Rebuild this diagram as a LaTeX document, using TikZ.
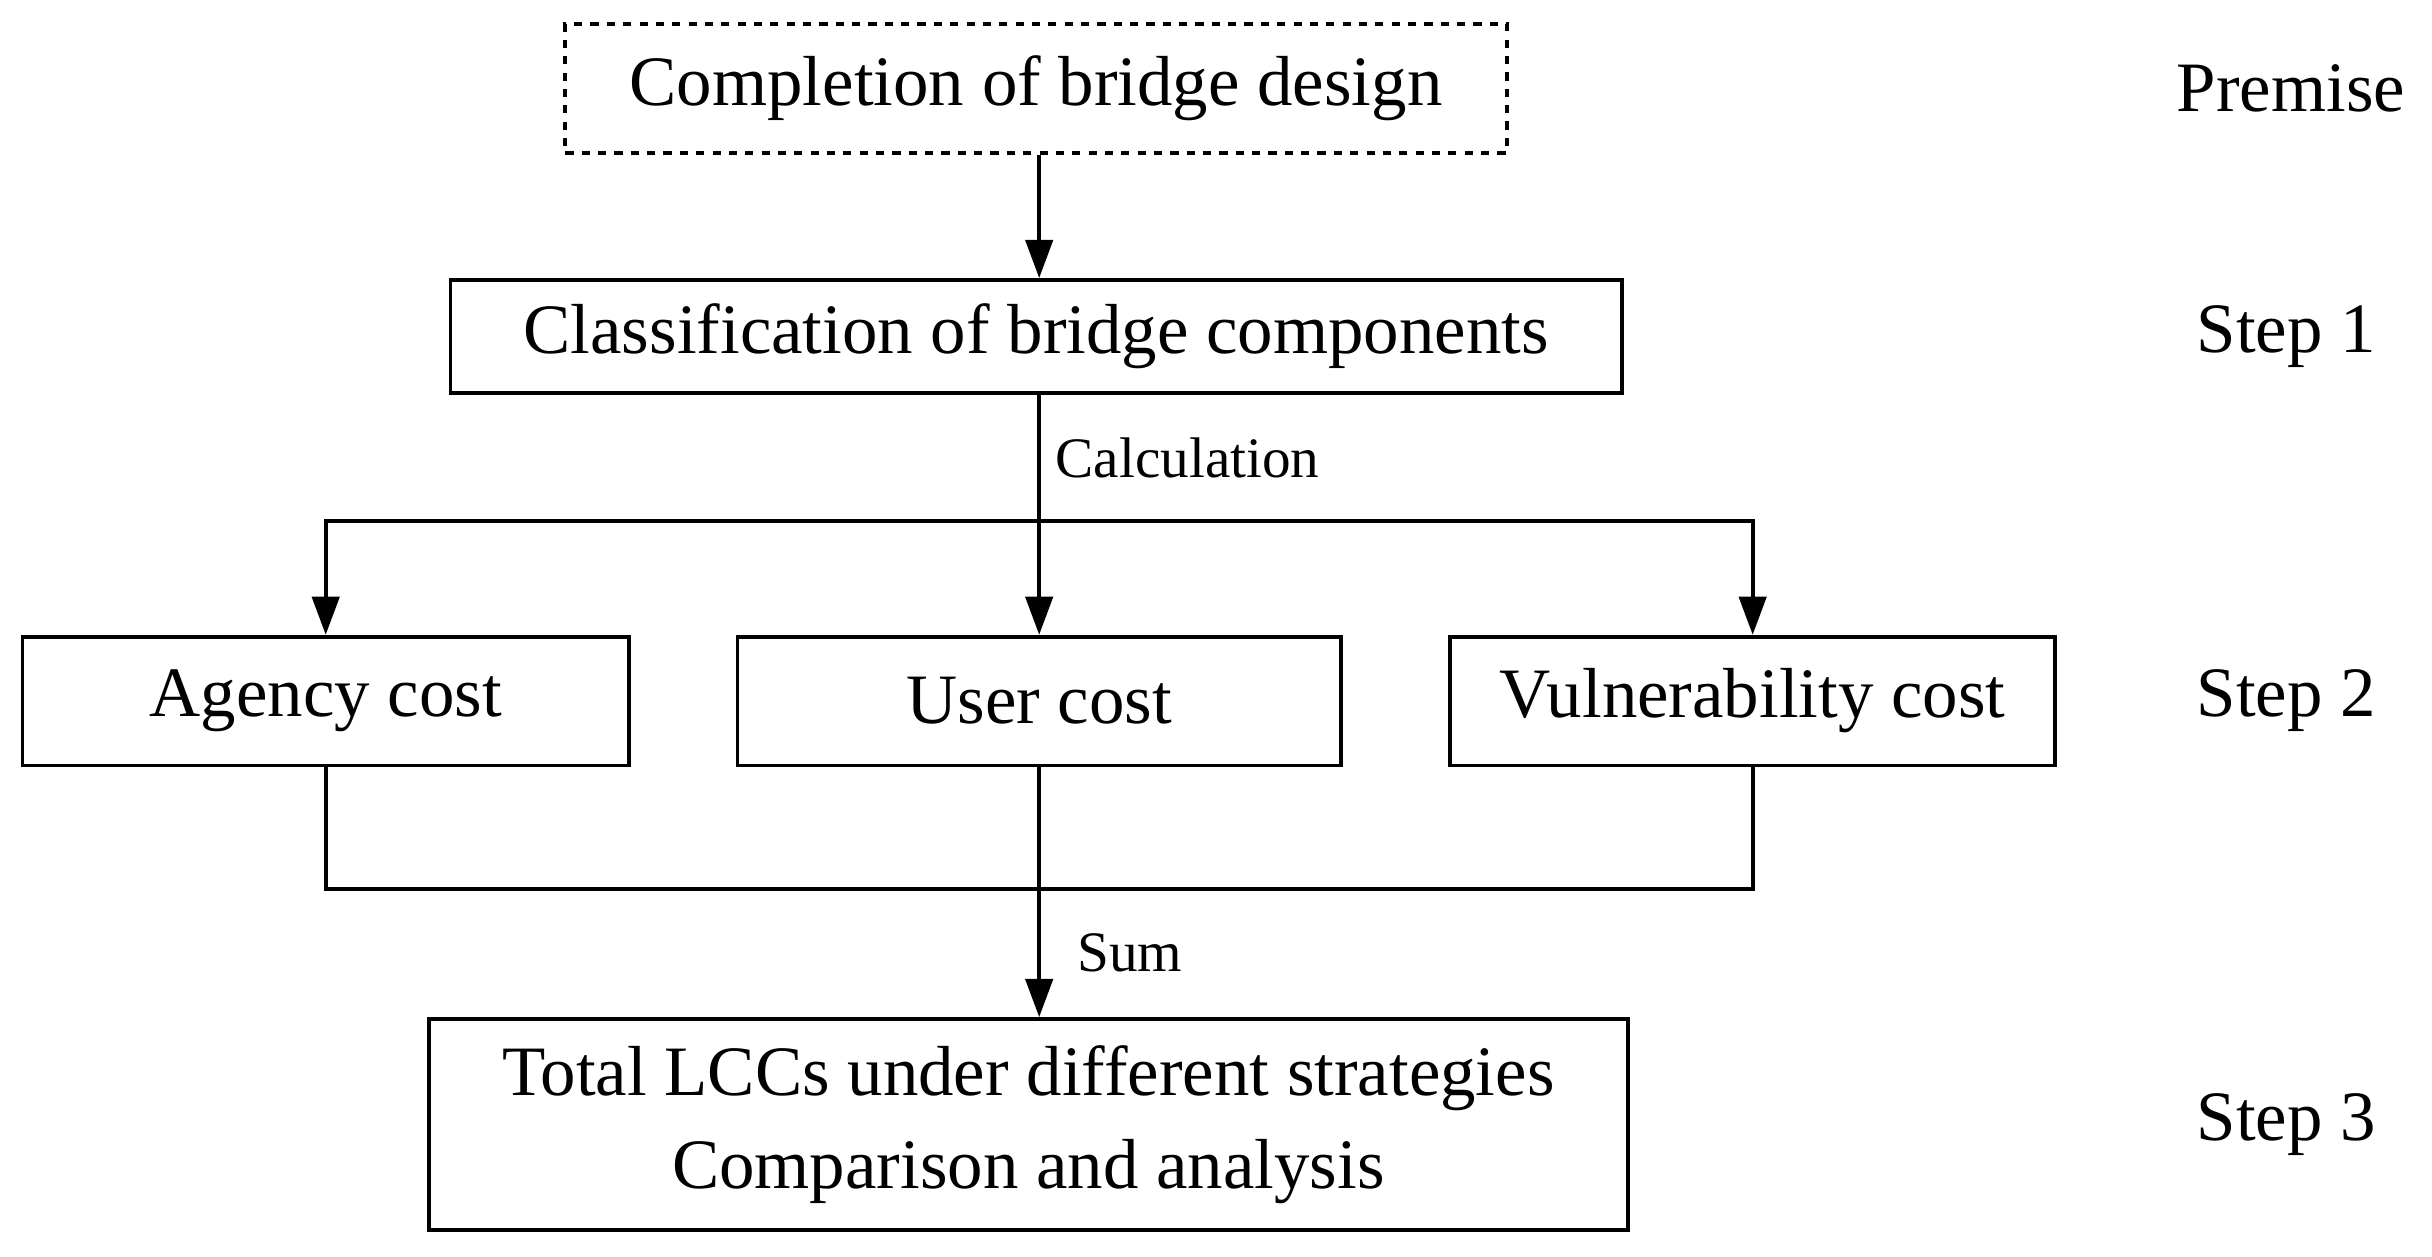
\documentclass[tikz,border=0pt]{standalone}
\usepackage{fontspec}
\setmainfont{Liberation Serif}
\usetikzlibrary{arrows.meta}
\begin{document}
\begin{tikzpicture}[x=0.02cm,y=-0.02cm,
  box/.style={draw,line width=1.4pt,inner sep=0pt,font=\fontsize{26}{34}\selectfont,align=center},
  lbl/.style={font=\fontsize{26}{30}\selectfont},
  sm/.style={font=\fontsize{21}{26}\selectfont,anchor=west},
  ln/.style={line width=1.4pt},
  ar/.style={line width=1.4pt,-{Triangle[length=14pt,width=10pt]}}]
\useasboundingbox (0,0) rectangle (1568,810);
\node[box,dashed,minimum width=607*0.02cm,minimum height=83*0.02cm] (p) at (668,57) {Completion of bridge design};
\node[box,minimum width=755*0.02cm,minimum height=73*0.02cm] (s1) at (668,217) {Classification of bridge components};
\node[box,minimum width=391*0.02cm,minimum height=83*0.02cm] (a) at (210,452) {Agency cost};
\node[box,minimum width=389*0.02cm,minimum height=83*0.02cm] (u) at (670,452) {User cost};
\node[box,minimum width=390*0.02cm,minimum height=83*0.02cm] (v) at (1130,452) {Vulnerability cost};
\node[box,minimum width=773*0.02cm,minimum height=136*0.02cm] (t) at (663,725) {Total LCCs under different strategies\\Comparison and analysis};
\node[lbl] (l0) at (1477,57) {Premise};
\node[lbl] (l1) at (1474,217) {Step 1};
\node[lbl] (l2) at (1474,452) {Step 2};
\node[lbl] (l3) at (1474,725) {Step 3};
\coordinate (c) at (670,336);
\coordinate (d) at (670,573);
\draw[ar] (p.south -| c) -- (s1.north -| c);
\draw[ln] (s1.south -| c) -- (c) node[midway,sm,xshift=2pt] {Calculation};
\draw[ar] (c) -| (a.north);
\draw[ar] (c) -| (v.north);
\draw[ar] (c) -- (u.north);
\draw[ln] (a.south) |- (d) -| (v.south);
\draw[ln] (u.south) -- (d);
\draw[ar] (d) -- (t.north -| d) node[midway,sm,xshift=10pt] {Sum};
\end{tikzpicture}
\end{document}
